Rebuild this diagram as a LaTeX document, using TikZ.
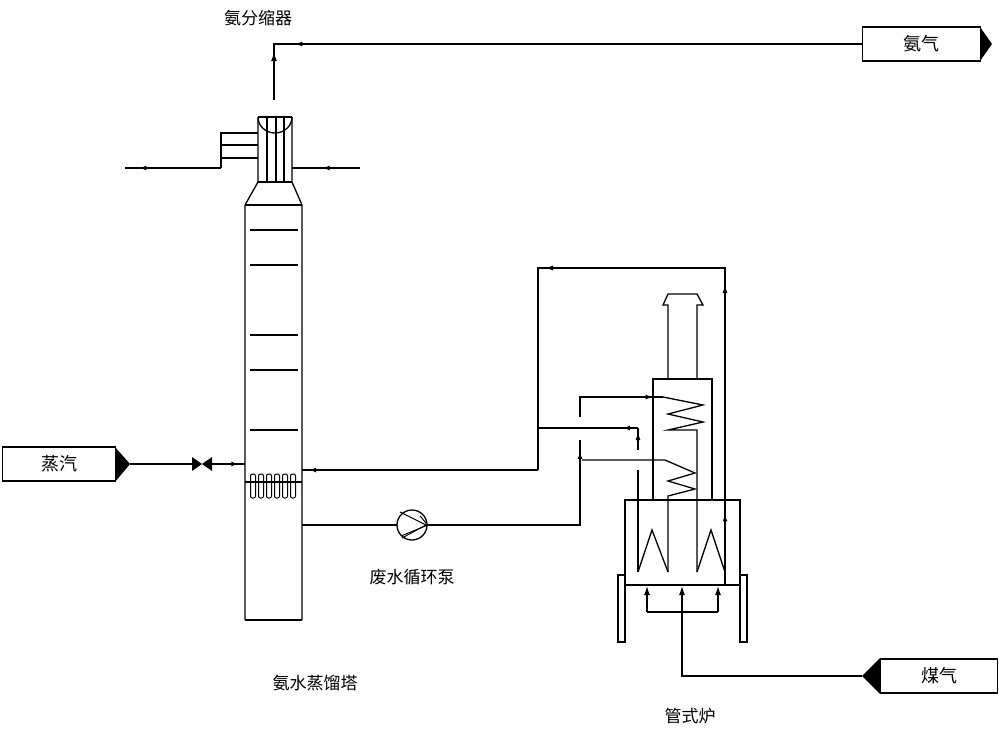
\documentclass[tikz,border=0pt]{standalone}
\usepackage{fontspec}
\newfontfamily\cjk{Noto Sans CJK SC}[Scale=1]
\usetikzlibrary{arrows.meta,decorations.markings}
\begin{document}
\begin{tikzpicture}[x=1pt,y=-1pt,
  ln/.style={line width=1.3pt},
  mid/.style={postaction={decorate},decoration={markings,mark=at position #1 with {\arrow{Latex[length=7pt,width=5pt]}}}},
  lbl/.style={font=\cjk\fontsize{17}{17}\selectfont,inner sep=0pt},
  tag/.style={draw,line width=1.3pt,minimum height=34pt,inner sep=0pt,font=\cjk\fontsize{18}{18}\selectfont}]
\useasboundingbox (0,0) rectangle (1000,734);
\begin{scope}[ln]
% column
\draw (245,620) -- (245,205) -- (258,182) -- (258,117);
\draw (302,620) -- (302,205) -- (292,182) -- (292,117);
\draw (245,620) -- (302,620);
\draw (245,205) -- (302,205);
\draw (258,182) -- (292,182);
\draw (258,117) -- (292,117);
\draw (258,117) arc[start angle=180,end angle=0,x radius=17,y radius=16];
\foreach \x in {267,276,284} \draw (\x,117) -- (\x,182);
\foreach \y in {230,265,335,370,430} \draw (250,\y) -- (298,\y);
% distributor
\draw (245,482) -- (302,482);
\foreach \x in {253,261,269,277,285,293} \draw[line width=1pt,rounded corners=2pt] (\x-2.5,474) rectangle (\x+2.5,498);
% side condenser box
\draw (258,133) -- (221,133) -- (221,168);
\draw (221,145) -- (258,145);
\draw (221,158) -- (258,158);
\end{scope}
% nodes
\node[tag,minimum width=118pt,anchor=west] (nh3) at (862,44) {氨气};
\fill (980,27) -- (992,44) -- (980,61) -- cycle;
\node[tag,minimum width=117pt,anchor=west] (gas) at (880,676) {煤气};
\fill (880,658) -- (862,676) -- (880,694) -- cycle;
\node[tag,minimum width=113pt,anchor=west] (steam) at (2,464) {蒸汽};
\fill (115,447) -- (130,464) -- (115,482) -- cycle;
\node[lbl] (l1) at (258,18) {氨分缩器};
\node[lbl] (l2) at (315,683) {氨水蒸馏塔};
\node[lbl] (l3) at (412,577) {废水循环泵};
\node[lbl] (l4) at (690,716) {管式炉};
\node[draw,circle,line width=1.3pt,minimum size=30pt,inner sep=0pt] (pump) at (412,525) {};
\draw[line width=1pt] (pump.north east) ++(-3,2) -- (pump.east) -- (pump.south west)++(4,-1);
\draw[line width=1pt] (400,512) -- (426,525) -- (402,538);
\coordinate (valve) at (202,464);
\fill (192,457) -- (212,471) -- (212,457) -- (192,471) -- cycle;
\begin{scope}[ln]
% overhead
\draw[mid=0.88] (862,44) -- (274,44) -- (274,100);
\draw[-{Latex[length=9pt,width=6pt]}] (274,84) -- (274,52);
\draw[mid=0.85] (221,168) -- (125,168);
\draw[mid=0.55] (360,168) -- (292,168);
% steam
\draw (130,464) -- (192,464);
\draw[mid=0.8] (212,464) -- (245,464);
% return line
\draw[mid=0.97] (538,470) -- (302,470);
\draw[mid=0.1] (725,585) -- (725,268) -- (538,268) -- (538,470);
\draw[-{Latex[length=8pt,width=5pt]}] (725,300) -- (725,285);
\draw[-{Latex[length=8pt,width=5pt]}] (560,268) -- (545,268);
% pump line
\draw (302,525) -- (397,525);
\draw[mid=0.95] (427,525) -- (580,525) -- (580,440);
\draw[mid=0.9] (580,417) -- (580,397) -- (663,397);
\draw (663,397) -- (703,405) -- (668,414) -- (703,422) -- (668,430) -- (697,430) -- (697,572);
\draw (582,460) -- (665,460) -- (695,473) -- (668,481) -- (695,489) -- (668,496) -- (668,572);
\draw[mid=0.15] (638,428) -- (538,428);
\draw[-{Latex[length=8pt,width=5pt]}] (638,445) -- (638,432);
\draw (638,428) -- (638,450);
\draw (638,470) -- (638,572);
% furnace
\draw (668,379) -- (668,305) -- (663,305) -- (668,294) -- (697,294) -- (703,305) -- (697,305) -- (697,379);
\draw (653,500) rectangle (712,379);
\draw (625,500) rectangle (740,585);
\draw (618,575) rectangle (625,642);
\draw (740,575) rectangle (747,642);
\draw (638,572) -- (652,530) -- (668,572);
\draw (697,572) -- (711,530) -- (725,572);
\draw (862,676) -- (682,676) -- (682,612);
\draw (647,612) -- (718,612);
\foreach \x in {647,682,718} \draw[-{Latex[length=9pt,width=6pt]}] (\x,612) -- (\x,586);
\end{scope}
\end{tikzpicture}
\end{document}
